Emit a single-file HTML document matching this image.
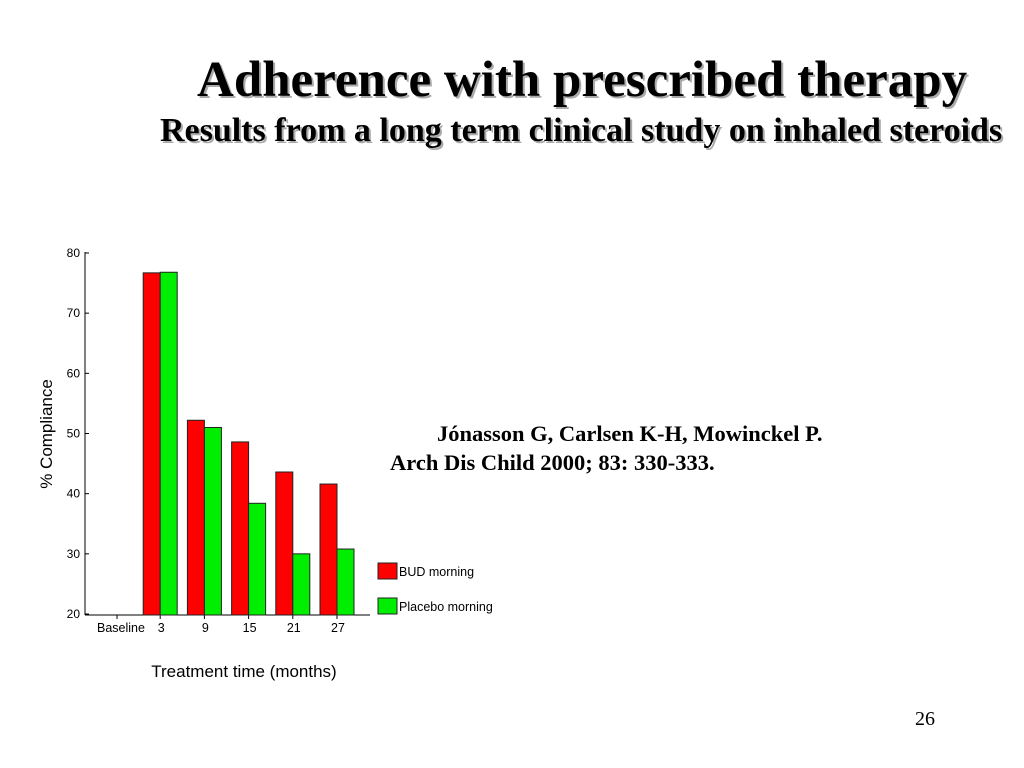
<!DOCTYPE html>
<html><head><meta charset="utf-8"><style>
body{margin:0;width:1024px;height:768px;background:#fff;overflow:hidden;position:relative;font-family:"Liberation Sans",sans-serif}
.t{position:absolute;font-family:"Liberation Serif",serif;font-weight:bold;text-shadow:2px 2px 0 #aaa;white-space:nowrap}
</style></head><body>
<div class="t" style="left:197px;top:50px;font-size:51px;line-height:60px">Adherence with prescribed therapy</div>
<div class="t" style="left:160px;top:110px;font-size:34px;line-height:42px">Results from a long term clinical study on inhaled steroids</div>
<div style="position:absolute;left:390px;top:419px;font-family:'Liberation Serif',serif;font-weight:bold;font-size:22.5px;line-height:29px;white-space:nowrap"><span style="padding-left:47px">J&oacute;nasson G, Carlsen K-H, Mowinckel P.</span><br>Arch Dis Child 2000; 83: 330-333.</div>
<div style="position:absolute;left:915px;top:708px;font-family:'Liberation Serif',serif;font-size:20px">26</div>
<svg id="c" width="1024" height="768" style="position:absolute;left:0;top:0"></svg>
<script>
const categories=["Baseline","3","9","15","21","27"];
const budMorning=[null,76.7,52.2,48.6,43.6,41.6];
const placeboMorning=[null,76.8,51.0,38.4,30.0,30.8];
const yTicks=[20,30,40,50,60,70,80];
const NS="http://www.w3.org/2000/svg",svg=document.getElementById('c');
function mk(t,a,p){const e=document.createElementNS(NS,t);for(const k in a)e.setAttribute(k,a[k]);(p||svg).appendChild(e);return e;}
const y=v=>614-(v-20)*(361/60);
const x=i=>117+(i*44.2);
mk('line',{x1:85,y1:252,x2:85,y2:615,stroke:'#000'});
mk('line',{x1:85,y1:615,x2:370,y2:615,stroke:'#000'});
yTicks.forEach(v=>{
 const l=mk('line',{x1:85,y1:y(v),x2:89,y2:y(v),stroke:'#000'});
 
 
 const t=mk('text',{x:80,y:y(v)+4,'text-anchor':'end','font-size':12});
 
 
 t.textContent=v;
});
categories.forEach((c,i)=>{
 const cx=i==0?117:x(i)-1;
 mk('line',{x1:cx,y1:615,x2:cx,y2:619,stroke:'#000'});
 const t=mk('text',{x:i==0?121:cx+1,y:632,'text-anchor':'middle','font-size':12.5});
 
 
 t.textContent=c;
 if(budMorning[i]!=null){
  const r=mk('rect',{x:cx-17,y:y(budMorning[i]),width:17,height:615-y(budMorning[i]),fill:'#ff0000',stroke:'#222','stroke-width':1});
  
  
 }
 if(placeboMorning[i]!=null){
  const r=mk('rect',{x:cx,y:y(placeboMorning[i]),width:17,height:615-y(placeboMorning[i]),fill:'#00ee00',stroke:'#222','stroke-width':1});
  
  
 }
});
const yt=mk('text',{x:52,y:434,'text-anchor':'middle','font-size':17,transform:'rotate(-90 52 434)'});


yt.textContent='% Compliance';
const xt=mk('text',{x:244,y:677,'text-anchor':'middle','font-size':17});


xt.textContent='Treatment time (months)';
[["BUD morning","#ff0000",563],["Placebo morning","#00ee00",598]].forEach(([n,col,ty])=>{
 const g=mk('g',{});
 
 
 mk('rect',{x:378,y:ty,width:19,height:16,fill:col,stroke:'#222'},g);
 const t=mk('text',{x:399,y:ty+13,'font-size':12.5},g);
 t.textContent=n;
});
</script>
</body></html>
